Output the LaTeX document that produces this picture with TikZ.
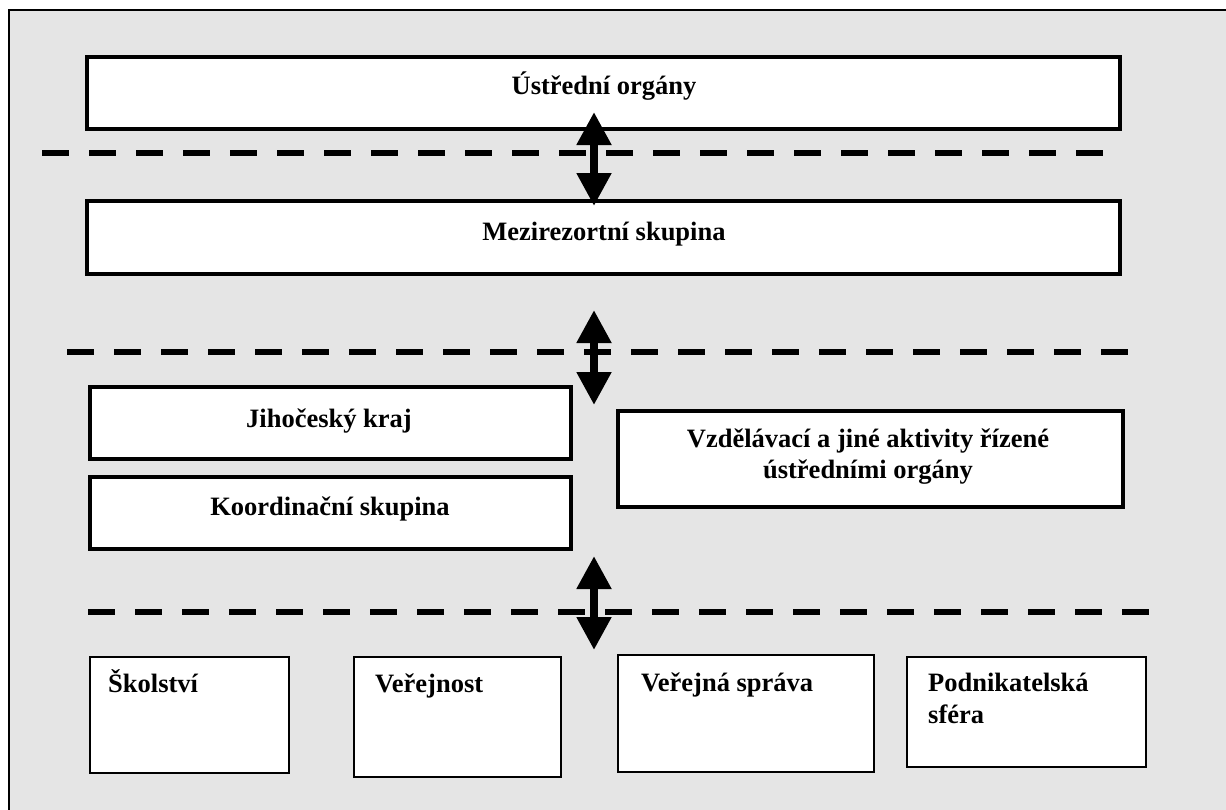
\documentclass[tikz,border=0pt]{standalone}
\usepackage{fontspec}
\setmainfont{Liberation Serif}
\usetikzlibrary{arrows.meta}
\definecolor{bggray}{RGB}{229,229,229}
\begin{document}
\begin{tikzpicture}[x=1pt,y=-1pt,
  bigbox/.style={draw=black,line width=4pt,fill=white,inner sep=0pt,rectangle},
  smallbox/.style={draw=black,line width=1.5pt,fill=white,inner sep=0pt,rectangle},
  txt/.style={font=\fontsize{26.5}{31}\selectfont\bfseries,inner sep=0pt,text=black},
  sepline/.style={line width=6pt,dash pattern=on 27pt off 20pt,line cap=butt},
  dblarrow/.style={line width=8pt,{Triangle[length=33pt,width=33pt]}-{Triangle[length=33pt,width=33pt]}}
]
\useasboundingbox (0,0) rectangle (1226,809);
% background
\fill[white] (-5,-5) rectangle (1235,820);
\fill[bggray] (9,10) rectangle (1235,820);
\draw[line width=2.5pt] (9,820) -- (9,10) -- (1235,10);

% dashed separators
\coordinate (d1a) at (42,153);  \coordinate (d1b) at (1103,153);
\coordinate (d2a) at (67,352);  \coordinate (d2b) at (1128,352);
\coordinate (d3a) at (88,612);  \coordinate (d3b) at (1149,612);
\draw[sepline] (d1a) -- (d1b);
\draw[sepline] (d2a) -- (d2b);
\draw[sepline] (d3a) -- (d3b);

% upper boxes
\node[bigbox,minimum width=1033pt,minimum height=72pt] (ustr) at (603.5,93) {};
\node[txt,anchor=base] (ustrT) at (604,94) {Ústřední orgány};
\node[bigbox,minimum width=1033pt,minimum height=73pt] (mezi) at (603.5,237.5) {};
\node[txt,anchor=base] (meziT) at (604,240) {Mezirezortní skupina};

\node[bigbox,minimum width=481pt,minimum height=72pt] (jiho) at (330.5,423) {};
\node[txt,anchor=base] (jihoT) at (329,427) {Jihočeský kraj};
\node[bigbox,minimum width=481pt,minimum height=72pt] (koord) at (330.5,513) {};
\node[txt,anchor=base] (koordT) at (330,515) {Koordinační skupina};

\node[bigbox,minimum width=505pt,minimum height=96pt] (vzdel) at (870.5,459) {};
\node[txt,anchor=base] (vzdelT1) at (868,447) {Vzdělávací a jiné aktivity řízené};
\node[txt,anchor=base] (vzdelT2) at (868,478) {ústředními orgány};

% bottom boxes
\node[smallbox,minimum width=199pt,minimum height=116pt] (skol) at (189.5,715) {};
\node[txt,anchor=base west] (skolT) at (108,692) {Školství};
\node[smallbox,minimum width=207pt,minimum height=120pt] (verej) at (457.5,717) {};
\node[txt,anchor=base west] (verejT) at (375,692) {Veřejnost};
\node[smallbox,minimum width=256pt,minimum height=117pt] (vsprava) at (746,713.5) {};
\node[txt,anchor=base west] (vspravaT) at (641,691) {Veřejná správa};
\node[smallbox,minimum width=239pt,minimum height=110pt] (podn) at (1026.5,712) {};
\node[txt,anchor=base west] (podnT1) at (928,691) {Podnikatelská};
\node[txt,anchor=base west] (podnT2) at (928,723) {sféra};

% arrows
\coordinate (a1s) at (594,112); \coordinate (a1e) at (594,206);
\coordinate (a2s) at (594,310); \coordinate (a2e) at (594,405);
\coordinate (a3s) at (594,556); \coordinate (a3e) at (594,650);
\draw[dblarrow] (a1s) -- (a1e);
\draw[dblarrow] (a2s) -- (a2e);
\draw[dblarrow] (a3s) -- (a3e);
\end{tikzpicture}
\end{document}
